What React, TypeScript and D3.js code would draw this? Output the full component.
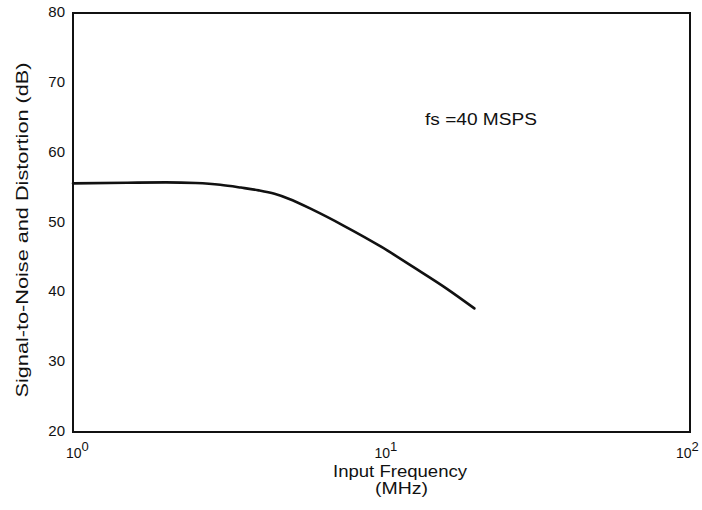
import React from "react";
import * as d3 from "d3";

const freqMHz = [1, 1.5, 2, 2.5, 3, 3.5, 4, 4.5, 5, 6, 7.5, 10, 12.7, 16.3, 20];
const sinadDb = [55.6, 55.7, 55.75, 55.65, 55.4, 55.0, 54.6, 54.1, 53.4, 51.8, 49.6, 46.5, 43.6, 40.5, 37.7];
const yTicks = [20, 30, 40, 50, 60, 70, 80];
const xTickExponents = [0, 1, 2];

const W = 702;
const H = 510;
const M = { left: 73, right: 12, top: 13, bottom: 78 };

export default function App() {
  const x = d3.scaleLog().domain([1, 100]).range([M.left, W - M.right]);
  const y = d3.scaleLinear().domain([20, 80]).range([H - M.bottom, M.top]);
  const pts = freqMHz.map((f, i) => [f, sinadDb[i]] as [number, number]);
  const line = d3
    .line<[number, number]>()
    .x((d) => x(d[0]))
    .y((d) => y(d[1]))
    .curve(d3.curveMonotoneX);
  const font = "'Liberation Sans', Arial, sans-serif";
  return (
    <svg
      width={W}
      height={H}
      style={{ position: "absolute", left: 0, top: 0, background: "#fff" }}
      fontFamily={font}
    >
      <rect
        x={M.left}
        y={M.top}
        width={W - M.left - M.right}
        height={H - M.top - M.bottom}
        fill="none"
        stroke="#111"
        strokeWidth={2}
      />
      {yTicks.map((t) => (
        <text key={t} x={M.left - 8} y={y(t) + 4} textAnchor="end" fontSize={15} fill="#111">
          {t}
        </text>
      ))}
      {xTickExponents.map((e) => (
        <text
          key={e}
          x={Math.min(x(Math.pow(10, e)) - 7, W - 26)}
          y={458}
          textAnchor="start"
          fontSize={14}
          fill="#111"
        >
          10
          <tspan dy={-7} fontSize={13}>{e}</tspan>
        </text>
      ))}
      <path d={line(pts) || ""} fill="none" stroke="#111" strokeWidth={2.6} strokeLinejoin="round" strokeLinecap="round" />
      <text x={425} y={125} fontSize={16} textLength={112} lengthAdjust="spacingAndGlyphs" fill="#111">fs =40 MSPS</text>
      <text x={400} y={477} textAnchor="middle" fontSize={16} textLength={134} lengthAdjust="spacingAndGlyphs" fill="#111">Input Frequency</text>
      <text x={401.5} y={494} textAnchor="middle" fontSize={16} textLength={53} lengthAdjust="spacingAndGlyphs" fill="#111">(MHz)</text>
      <text
        transform={`translate(28, 230) rotate(-90)`}
        textAnchor="middle"
        fontSize={17}
        textLength={335}
        lengthAdjust="spacingAndGlyphs"
        fill="#111"
      >
        Signal-to-Noise and Distortion (dB)
      </text>
    </svg>
  );
}
